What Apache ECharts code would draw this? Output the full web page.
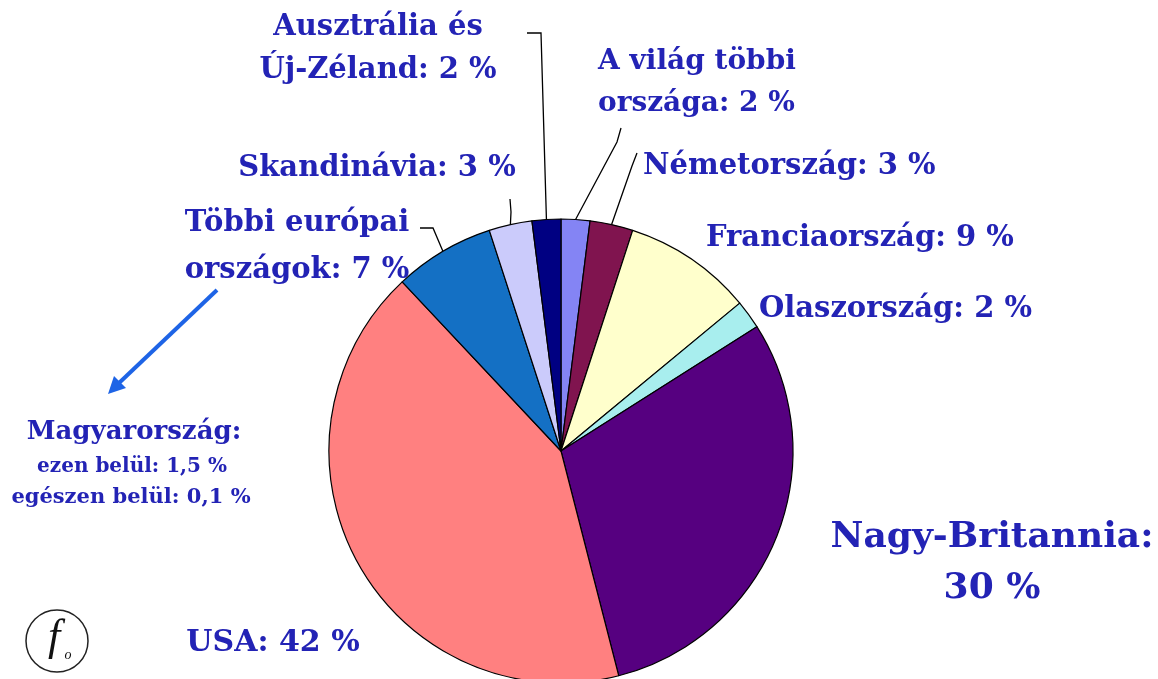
<!DOCTYPE html>
<html>
<head>
<meta charset="utf-8">
<script src="https://cdn.jsdelivr.net/npm/echarts@6/dist/echarts.min.js"></script>
<style>
  html, body { margin: 0; padding: 0; background: #fff; }
  #chart { width: 1158px; height: 679px; }
</style>
</head>
<body>
<div id="chart"></div>
<script>
// slices, clockwise from 12 o'clock
const countries = ['A világ többi\nországa', 'Németország', 'Franciaország', 'Olaszország',
  'Nagy-Britannia', 'USA', 'Többi európai\nországok', 'Skandinávia', 'Ausztrália és\nÚj-Zéland'];
const shares = [2, 3, 9, 2, 30, 42, 7, 3, 2];
const sliceColors = ['#8484f4', '#80144f', '#ffffcc', '#a8eeee', '#560080', '#ff8080', '#1470c4', '#cbcbfb', '#000082'];

// side note about Hungary
const hungaryNote = ['Magyarország:', 'ezen belül: 1,5 %', 'egészen belül: 0,1 %'];

const textBlue = '#2323b5';
const serif = '"DejaVu Serif", "Liberation Serif", serif';

// where each label sits (the picture places them by hand), plus leader line bends
const labelPlaces = [
  { x: 598, y: 83, align: 'left', size: 28, lh: 42, via: [[617, 142], [621, 128]] },
  { x: 643, y: 166, align: 'left', size: 29, lh: 40, via: [[632, 166], [637, 153]] },
  { x: 706, y: 238, align: 'left', size: 29, lh: 40 },
  { x: 759, y: 309, align: 'left', size: 29, lh: 40 },
  { x: 992, y: 563, align: 'center', size: 36, lh: 51, wrap: true },
  { x: 273, y: 643, align: 'center', size: 30, lh: 40 },
  { x: 297, y: 247, align: 'center', size: 29, lh: 47, via: [[433, 228], [420, 228]] },
  { x: 377, y: 168, align: 'center', size: 29, lh: 40, via: [[511, 212], [510, 199]] },
  { x: 378, y: 49, align: 'center', size: 29, lh: 43, via: [[541, 33], [527, 33]] }
];

const chart = echarts.init(document.getElementById('chart'));

const option = {
  animation: false,
  backgroundColor: '#ffffff',
  series: [
    {
      type: 'pie',
      center: [561, 451],
      radius: 232,
      startAngle: 90,
      clockwise: true,
      itemStyle: { borderColor: '#000', borderWidth: 1.2 },
      label: {
        show: true,
        position: 'outside',
        overflow: 'none',
        color: textBlue,
        fontFamily: serif,
        fontWeight: 'bold',
        formatter: function (p) {
          const pl = labelPlaces[p.dataIndex];
          return p.name + ':' + (pl.wrap ? '\n' : ' ') + p.value + ' %';
        }
      },
      labelLine: { lineStyle: { color: '#000', width: 1.3 } },
      labelLayout: function (params) {
        const pl = labelPlaces[params.dataIndex];
        const out = { x: pl.x, y: pl.y, align: pl.align, verticalAlign: 'middle' };
        if (pl.via && params.labelLinePoints) {
          out.labelLinePoints = [params.labelLinePoints[0]].concat(pl.via);
        }
        return out;
      },
      emphasis: { disabled: true },
      data: countries.map(function (name, i) {
        return {
          name: name,
          value: shares[i],
          itemStyle: { color: sliceColors[i] },
          label: { fontSize: labelPlaces[i].size, lineHeight: labelPlaces[i].lh },
          labelLine: { show: !!labelPlaces[i].via }
        };
      })
    }
  ],
  graphic: [
    // blue arrow pointing to the Hungary note
    {
      type: 'polyline',
      shape: { points: [[217, 290], [119, 383]] },
      style: { stroke: '#1e64e6', lineWidth: 4 }
    },
    {
      type: 'polygon',
      shape: { points: [[108, 394], [126, 388], [114, 376]] },
      style: { fill: '#1e64e6' }
    },
    {
      type: 'text', x: 134, y: 432,
      style: { text: hungaryNote[0], font: 'bold 26px ' + serif, fill: textBlue, align: 'center', verticalAlign: 'middle' }
    },
    {
      type: 'text', x: 132, y: 467,
      style: { text: hungaryNote[1], font: 'bold 20px ' + serif, fill: textBlue, align: 'center', verticalAlign: 'middle' }
    },
    {
      type: 'text', x: 131, y: 498,
      style: { text: hungaryNote[2], font: 'bold 21px ' + serif, fill: textBlue, align: 'center', verticalAlign: 'middle' }
    },
    // little logo in the corner
    {
      type: 'circle',
      shape: { cx: 57, cy: 641, r: 31 },
      style: { fill: 'none', stroke: '#222', lineWidth: 1.5 }
    },
    {
      type: 'text', x: 54, y: 638,
      style: { text: 'f', font: 'italic 44px "Liberation Serif", serif', fill: '#111', align: 'center', verticalAlign: 'middle' }
    },
    {
      type: 'text', x: 68, y: 655,
      style: { text: 'o', font: 'italic 14px "Liberation Serif", serif', fill: '#111', align: 'center', verticalAlign: 'middle' }
    }
  ]
};

chart.setOption(option);
window.addEventListener('resize', function () { chart.resize(); });
</script>
</body>
</html>
